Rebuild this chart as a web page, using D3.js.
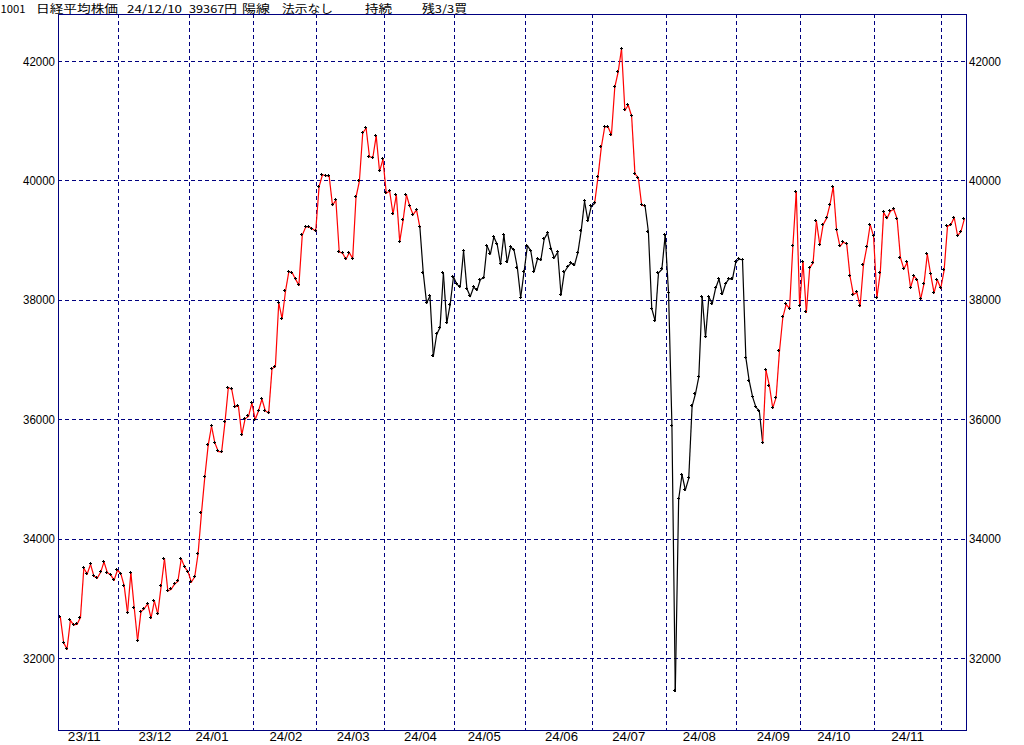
<!DOCTYPE html>
<html><head><meta charset="utf-8">
<script src="https://cdn.jsdelivr.net/npm/d3@7"></script>
<style>html,body{margin:0;padding:0;background:#fff;} svg{display:block}</style>
</head><body><svg id="c" width="1024" height="745"></svg>
<script>
const dates = [
"2023-11-06","2023-11-07","2023-11-08","2023-11-09","2023-11-10","2023-11-13","2023-11-14","2023-11-15","2023-11-16","2023-11-17","2023-11-20","2023-11-21","2023-11-22","2023-11-24","2023-11-27","2023-11-28","2023-11-29","2023-11-30",
"2023-12-01","2023-12-04","2023-12-05","2023-12-06","2023-12-07","2023-12-08","2023-12-11","2023-12-12","2023-12-13","2023-12-14","2023-12-15","2023-12-18","2023-12-19","2023-12-20","2023-12-21","2023-12-22","2023-12-25","2023-12-26","2023-12-27","2023-12-28","2023-12-29",
"2024-01-04","2024-01-05","2024-01-09","2024-01-10","2024-01-11","2024-01-12","2024-01-15","2024-01-16","2024-01-17","2024-01-18","2024-01-19","2024-01-22","2024-01-23","2024-01-24","2024-01-25","2024-01-26","2024-01-29","2024-01-30","2024-01-31",
"2024-02-01","2024-02-02","2024-02-05","2024-02-06","2024-02-07","2024-02-08","2024-02-09","2024-02-13","2024-02-14","2024-02-15","2024-02-16","2024-02-19","2024-02-20","2024-02-21","2024-02-22","2024-02-26","2024-02-27","2024-02-28","2024-02-29",
"2024-03-01","2024-03-04","2024-03-05","2024-03-06","2024-03-07","2024-03-08","2024-03-11","2024-03-12","2024-03-13","2024-03-14","2024-03-15","2024-03-18","2024-03-19","2024-03-21","2024-03-22","2024-03-25","2024-03-26","2024-03-27","2024-03-28","2024-03-29",
"2024-04-01","2024-04-02","2024-04-03","2024-04-04","2024-04-05","2024-04-08","2024-04-09","2024-04-10","2024-04-11","2024-04-12","2024-04-15","2024-04-16","2024-04-17","2024-04-18","2024-04-19","2024-04-22","2024-04-23","2024-04-24","2024-04-25","2024-04-26","2024-04-30",
"2024-05-01","2024-05-02","2024-05-07","2024-05-08","2024-05-09","2024-05-10","2024-05-13","2024-05-14","2024-05-15","2024-05-16","2024-05-17","2024-05-20","2024-05-21","2024-05-22","2024-05-23","2024-05-24","2024-05-27","2024-05-28","2024-05-29","2024-05-30","2024-05-31",
"2024-06-03","2024-06-04","2024-06-05","2024-06-06","2024-06-07","2024-06-10","2024-06-11","2024-06-12","2024-06-13","2024-06-14","2024-06-17","2024-06-18","2024-06-19","2024-06-20","2024-06-21","2024-06-24","2024-06-25","2024-06-26","2024-06-27","2024-06-28",
"2024-07-01","2024-07-02","2024-07-03","2024-07-04","2024-07-05","2024-07-08","2024-07-09","2024-07-10","2024-07-11","2024-07-12","2024-07-16","2024-07-17","2024-07-18","2024-07-19","2024-07-22","2024-07-23","2024-07-24","2024-07-25","2024-07-26","2024-07-29","2024-07-30","2024-07-31",
"2024-08-01","2024-08-02","2024-08-05","2024-08-06","2024-08-07","2024-08-08","2024-08-09","2024-08-13","2024-08-14","2024-08-15","2024-08-16","2024-08-19","2024-08-20","2024-08-21","2024-08-22","2024-08-23","2024-08-26","2024-08-27","2024-08-28","2024-08-29","2024-08-30",
"2024-09-02","2024-09-03","2024-09-04","2024-09-05","2024-09-06","2024-09-09","2024-09-10","2024-09-11","2024-09-12","2024-09-13","2024-09-17","2024-09-18","2024-09-19","2024-09-20","2024-09-24","2024-09-25","2024-09-26","2024-09-27","2024-09-30",
"2024-10-01","2024-10-02","2024-10-03","2024-10-04","2024-10-07","2024-10-08","2024-10-09","2024-10-10","2024-10-11","2024-10-15","2024-10-16","2024-10-17","2024-10-18","2024-10-21","2024-10-22","2024-10-23","2024-10-24","2024-10-25","2024-10-28","2024-10-29","2024-10-30","2024-10-31",
"2024-11-01","2024-11-05","2024-11-06","2024-11-07","2024-11-08","2024-11-11","2024-11-12","2024-11-13","2024-11-14","2024-11-15","2024-11-18","2024-11-19","2024-11-20","2024-11-21","2024-11-22","2024-11-25","2024-11-26","2024-11-27","2024-11-28","2024-11-29",
"2024-12-02","2024-12-03","2024-12-04","2024-12-05","2024-12-06","2024-12-09","2024-12-10"
];
const closes = [
32708,32271,32166,32646,32568,32585,32695,33519,33424,33585,33388,33354,33452,33625,33447,33408,33321,33486,
33431,33231,32775,33445,32858,32307,32791,32843,32926,32686,32970,32758,33219,33675,33140,33169,33255,33305,33681,33540,33464,
33288,33377,33763,34441,35049,35577,35901,35619,35477,35466,35963,36546,36517,36226,36236,35751,36026,36065,36286,
36011,36158,36354,36160,36119,36863,36897,37963,37703,38157,38487,38470,38363,38262,39098,39233,39239,39208,39166,
39910,40109,40097,40090,39598,39688,38820,38797,38695,38807,38707,39740,40003,40815,40888,40414,40398,40762,40168,40369,
39803,39838,39451,39773,38992,39347,39773,39581,39442,39523,39232,38471,37961,38079,37068,37438,37552,38460,37628,37934,38405,
38274,38236,38835,38202,38073,38229,38179,38356,38385,38920,38787,39070,38947,38617,39103,38646,38900,38855,38556,38054,38487,
38923,38837,38490,38703,38683,39038,39134,38876,38720,38814,38102,38482,38570,38633,38596,38804,39173,39667,39341,39583,
39631,40074,40580,40913,40912,40780,41580,41831,42224,41190,41275,41097,40126,40063,39599,39594,39154,37869,37667,38468,38525,39101,
38126,35909,31458,34675,35089,34831,35025,36232,36442,36726,38062,37388,38062,37951,38211,38364,38110,38288,38371,38362,38647,
38700,38686,37047,36657,36391,36215,36159,35619,36833,36581,36203,36380,37155,37723,37940,37870,38925,39829,37919,
38651,37808,38552,38635,39332,38937,39277,39380,39605,39910,39180,38911,38981,38954,38411,38104,38143,37913,38605,38903,39277,39081,
38053,38474,39480,39381,39500,39533,39376,38721,38535,38642,38220,38414,38352,38026,38283,38780,38442,38134,38349,38208,
38513,39248,39276,39395,39091,39160,39367
];
const yTicks = [32000, 34000, 36000, 38000, 40000, 42000];
const monthLabels = ["23/11","23/12","24/01","24/02","24/03","24/04","24/05","24/06","24/07","24/08","24/09","24/10","24/11"];
const holdPeriods = [["2023-11-06","2024-04-15"],["2024-07-01","2024-07-23"],["2024-09-11","2024-12-10"]];
const titleParts = ["1001","日経平均株価","24/12/10","39367円","陽線","法示なし","持続","残3/3買"];

// ---- layout ----
const titleX = [0.5, 36, 127, 189, 242, 282, 365, 422];
const titleW = [25, 82, 55, 48, 28, 51, 27, 45];
const plot = {left:58, right:966, top:14, bottom:730};
const navy = "#000080";
const holdColor = "#ff0000", flatColor = "#000000";
const tickFont = "'Liberation Sans', Arial, sans-serif";

const svg = d3.select("#c");
const x = d3.scalePoint().domain(dates).range([59.3, 963.3]);
const y = d3.scaleLinear().domain([32000, 42000]).range([658, 61]);
const px = v => Math.round(v) + 0.5;

// title
svg.append("g").selectAll("text").data(titleParts).join("text")
  .attr("x", (d,i) => titleX[i]).attr("y", 13)
  .attr("textLength", (d,i) => titleW[i]).attr("lengthAdjust", "spacingAndGlyphs")
  .attr("font-family", "'Noto Sans CJK JP', sans-serif").attr("font-size", 11)
  .attr("fill", "#000").text(d => d);

// horizontal grid
svg.append("g").selectAll("line").data(yTicks).join("line")
  .attr("x1", plot.left).attr("x2", plot.right)
  .attr("y1", d => px(y(d))).attr("y2", d => px(y(d)))
  .attr("stroke", navy).attr("stroke-width", 1).attr("stroke-dasharray", "4,3")
  .attr("shape-rendering", "crispEdges");

// vertical grid at month boundaries
const bounds = [];
for (let i = 1; i < dates.length; i++) {
  if (dates[i].slice(0,7) !== dates[i-1].slice(0,7)) bounds.push((x(dates[i-1]) + x(dates[i])) / 2);
}
svg.append("g").selectAll("line").data(bounds).join("line")
  .attr("x1", d => px(d)).attr("x2", d => px(d))
  .attr("y1", plot.top).attr("y2", plot.bottom)
  .attr("stroke", navy).attr("stroke-width", 1).attr("stroke-dasharray", "4,3")
  .attr("shape-rendering", "crispEdges");

// segments
const inHold = (a, b) => holdPeriods.some(p => a >= p[0] && b <= p[1]);
const segs = [];
for (let i = 1; i < dates.length; i++) {
  segs.push({a: i-1, b: i, color: inHold(dates[i-1], dates[i]) ? holdColor : flatColor});
}
const line = d3.line().x(i => x(dates[i]) + 1).y(i => y(closes[i]) + 1);
svg.append("g").selectAll("path").data(segs).join("path")
  .attr("d", s => line([s.a, s.b]))
  .attr("fill", "none").attr("stroke", s => s.color).attr("stroke-width", 1.2)
  .attr("stroke-linecap", "square");

// markers
svg.append("g").selectAll("path").data(dates).join("path")
  .attr("d", (d,i) => {
    const cx = Math.round(x(d)) + 0.5, cy = Math.round(y(closes[i])) + 0.5;
    return `M${cx-1.5},${cy}h3M${cx},${cy-1.5}v3`;
  })
  .attr("stroke", "#000").attr("stroke-width", 1).attr("fill", "none")
  .attr("shape-rendering", "crispEdges");

// axes
function styleAxis(g, len) {
  g.select(".domain").remove();
  g.selectAll("line").remove();
  g.selectAll("text").attr("font-family", tickFont).attr("font-size", 13)
    .attr("fill", "#000").attr("textLength", len).attr("lengthAdjust", "spacingAndGlyphs");
}
svg.append("g").attr("transform", `translate(${plot.left},0)`)
  .call(d3.axisLeft(y).tickValues(yTicks).tickSize(0).tickPadding(3).tickFormat(d3.format("d")))
  .call(g => styleAxis(g, 32));
svg.append("g").attr("transform", `translate(${plot.right},0)`)
  .call(d3.axisRight(y).tickValues(yTicks).tickSize(0).tickPadding(3).tickFormat(d3.format("d")))
  .call(g => styleAxis(g, 32));

const labelDates = monthLabels.map(m => {
  const ym = "20" + m.slice(0,2) + "-" + m.slice(3,5);
  return dates.find(d => d.slice(0,7) === ym && +d.slice(8,10) >= 15);
});
const labelOf = new Map(labelDates.map((d,i) => [d, monthLabels[i]]));
svg.append("g").attr("transform", `translate(1,${plot.bottom})`)
  .call(d3.axisBottom(x).tickValues(labelDates).tickSize(0).tickPadding(2).tickFormat(d => labelOf.get(d)))
  .call(g => styleAxis(g, 33));

// frame
svg.append("rect").attr("x", plot.left + 0.5).attr("y", plot.top + 0.5)
  .attr("width", plot.right - plot.left).attr("height", plot.bottom - plot.top)
  .attr("fill", "none").attr("stroke", navy).attr("stroke-width", 1)
  .attr("shape-rendering", "crispEdges");
</script></body></html>
